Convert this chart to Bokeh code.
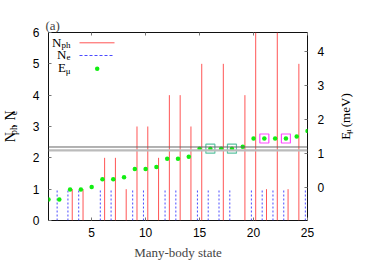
import math
from bokeh.plotting import figure
from bokeh.layouts import row
from bokeh.models import Range1d, LinearAxis, FixedTicker, Span, Label, Title, ColumnDataSource
from bokeh.transform import dodge
from bokeh.embed import file_html
from bokeh.resources import INLINE

# ---- data ----
states = list(range(1, 26))
n_ph = [0, 0, 1, 1, 0, 2, 2, 1, 3, 3, 2, 4, 4, 3, 5, 0, 5, 0, 4, 6, 1, 6, 1, 5, 0]
n_e = [0, 1, 1, 1, 0, 1, 1, 0, 1, 1, 0, 1, 1, 0, 1, 1, 1, 1, 0, 1, 1, 1, 1, 0, 1]
e_mu = [-0.35, -0.35, -0.05, -0.05, 0.02, 0.25, 0.25, 0.31, 0.55, 0.55, 0.61, 0.85,
        0.85, 0.91, 1.15, 1.15, 1.15, 1.15, 1.21, 1.45, 1.45, 1.45, 1.45, 1.51, 1.67]
teal_states = [16, 18]
magenta_states = [21, 23]
window_levels = [1.1, 1.2]
x_ticks = [5, 10, 15, 20, 25]
y_ticks = [0, 1, 2, 3, 4, 5, 6]
e_ticks = [0, 1, 2, 3, 4]

RED = "#ff5555"
BLUE = "#4a4aff"
GREEN = "#11ee11"
TEAL = "#5cc4a2"
MAGENTA = "#ff4cff"
SERIF = "Liberation Serif"
SANS = "Liberation Sans"

W, H = 374, 262
LW, RW = 24, 44                 # side strips holding the rotated axis titles
FL, FR, FT, FB = 48, 307, 32, 220  # frame edges on the page (px)
MW = W - LW - RW

p = figure(width=MW, height=H, output_backend="svg", toolbar_location=None,
           x_range=Range1d(1, 25), y_range=Range1d(0, 6),
           min_border_left=FL - LW, min_border_right=(W - RW) - FR, min_border_top=FT,
           min_border_bottom=H - FB,
           x_axis_location=None, y_axis_location=None)
p.extra_y_ranges = {"E": Range1d(-0.965, 4.572)}
p.grid.visible = False
p.outline_line_color = "#111111"
p.outline_line_width = 1
p.background_fill_color = "white"
p.border_fill_color = "white"


def style_axis(ax, ticks, show_labels=True, standoff=8):
    ax.ticker = FixedTicker(ticks=ticks)
    ax.major_tick_in = 3
    ax.major_tick_out = 0
    ax.minor_tick_line_color = None
    ax.major_tick_line_color = "#777777"
    ax.axis_line_color = None
    ax.major_label_standoff = standoff
    ax.major_label_text_font = SANS
    ax.major_label_text_font_size = "12px" if show_labels else "0px"
    ax.major_label_text_color = "black" if show_labels else None


ax_b = LinearAxis()
style_axis(ax_b, x_ticks, True, 7)
ax_b.axis_label = "Many-body state"
ax_b.axis_label_text_font = SERIF
ax_b.axis_label_text_font_size = "13px"
ax_b.axis_label_text_font_style = "normal"
ax_b.axis_label_standoff = 5
p.add_layout(ax_b, "below")
ax_t = LinearAxis()
style_axis(ax_t, x_ticks, False, 0)
p.add_layout(ax_t, "above")
ax_l = LinearAxis()
style_axis(ax_l, y_ticks, True, 9)
p.add_layout(ax_l, "left")
ax_r = LinearAxis(y_range_name="E")
style_axis(ax_r, e_ticks, True, 10)
p.add_layout(ax_r, "right")

# panel tag
p.add_layout(Title(text="(a)", align="left", offset=-3, standoff=0, text_font=SERIF,
                   text_font_size="13px", text_font_style="normal"), "above")

# energy window lines
p.add_layout(Span(location=window_levels[0], dimension="width", y_range_name="E",
                  line_color="#bbbbbb", line_width=2.2))
p.add_layout(Span(location=window_levels[1], dimension="width", y_range_name="E",
                  line_color="#666666", line_width=1))

# impulses
ph_src = ColumnDataSource(dict(s=[s for s, v in zip(states, n_ph) if v > 0],
                               v=[v for v in n_ph if v > 0]))
e_src = ColumnDataSource(dict(s=[s for s, v in zip(states, n_e) if v > 0],
                              v=[v for v in n_e if v > 0]))
p.segment(x0=dodge("s", 0.2, range=p.x_range), y0=0, x1=dodge("s", 0.2, range=p.x_range), y1="v",
          source=ph_src, line_color=RED, line_width=1)
p.segment(x0=dodge("s", -0.2, range=p.x_range), y0=0, x1=dodge("s", -0.2, range=p.x_range), y1="v",
          source=e_src, line_color=BLUE, line_width=1, line_dash="2 2")

# energies
p.scatter(states, e_mu, y_range_name="E", size=4.5, color=GREEN, line_color=None)
p.scatter(teal_states, [e_mu[s - 1] for s in teal_states], y_range_name="E", marker="square",
          size=9, fill_color=None, line_color=TEAL, line_width=1.2)
p.scatter(magenta_states, [e_mu[s - 1] for s in magenta_states], y_range_name="E", marker="square",
          size=9, fill_color=None, line_color=MAGENTA, line_width=1.2)


# ---- layout helpers (page px -> data units of the main frame) ----
def dx(px):
    return 1 + (px - FL) * 24 / (FR - FL)


def dy(py):
    return (FB - py) * 6 / (FB - FT)


def lab(fig, text, x, y, size=13, align="left", angle=0.0):
    fig.add_layout(Label(x=x, y=y, text=text, text_font=SERIF, text_font_size=f"{size}px",
                         text_align=align, text_baseline="alphabetic", angle=angle,
                         text_color="black"))


# legend (top-left, inside the frame)
lab(p, "ph", dx(70), dy(44.5), 9, "right")
lab(p, "N", dx(61), dy(41.5), 13, "right")
lab(p, "e", dx(70), dy(56.5), 9, "right")
lab(p, "N", dx(66), dy(53.5), 13, "right")
lab(p, "\u03bc", dx(70), dy(70), 9, "right")
lab(p, "E", dx(65.5), dy(66.5), 13, "right")
p.segment(x0=[dx(79)], y0=[dy(42.3)], x1=[dx(114)], y1=[dy(42.3)], line_color=RED, line_width=1)
p.segment(x0=[dx(79)], y0=[dy(55)], x1=[dx(114)], y1=[dy(55)], line_color=BLUE, line_width=1,
          line_dash="3 2")
p.scatter([dx(96.7)], [dy(68.3)], size=4.5, color=GREEN, line_color=None)


# side strips: their frame is the whole strip, data units = page pixels (y downward)
def strip(x0, width):
    f = figure(width=width, height=H, output_backend="svg", toolbar_location=None,
               x_range=Range1d(x0, x0 + width), y_range=Range1d(H, 0),
               min_border=0, x_axis_location=None, y_axis_location=None)
    f.grid.visible = False
    f.outline_line_color = None
    f.background_fill_color = "white"
    f.border_fill_color = "white"
    return f


A = math.pi / 2
left = strip(0, LW)
lab(left, "N", 10, 153, 14, angle=A)
lab(left, "ph", 13, 142.8, 10, angle=A)
lab(left, ", N", 10, 132.5, 14, angle=A)
lab(left, "e", 13, 115.2, 10, angle=A)

right = strip(W - RW, RW)
lab(right, "E", 344.5, 149.5, 13, angle=A)
lab(right, "\u03bc", 347.5, 141.5, 9, angle=A)
lab(right, "(meV)", 344.5, 132.0, 13, angle=A)

layout = row(left, p, right, spacing=0)
open("out.html", "w").write(file_html(layout, INLINE))
